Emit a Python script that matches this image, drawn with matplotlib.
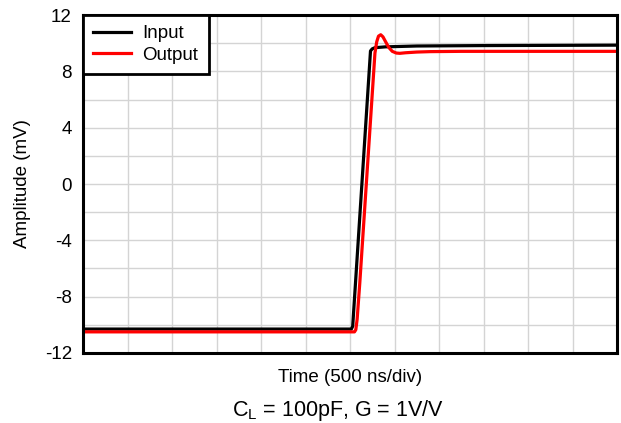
"""
   step response of the amplifier, input vs output, CL = 100pF, G = 1V/V
"""
import matplotlib
matplotlib.use('Agg')
from matplotlib import pyplot as plt
import numpy as np

plt.rcParams['font.family'] = ['Liberation Sans', 'DejaVu Sans']
plt.rcParams['axes.unicode_minus'] = False

# time in divisions (500 ns/div), amplitude in mV
t_in = [0.0, 6.03, 6.06, 6.46, 6.50, 6.56, 6.8, 7.5, 9.0, 12.0]
v_in = [-10.3, -10.3, -10.1, 9.45, 9.6, 9.68, 9.74, 9.8, 9.83, 9.86]

t_out = [0.0, 6.10, 6.13, 6.16, 6.19, 6.22, 6.56, 6.60, 6.64, 6.69, 6.74,
         6.80, 6.87, 6.95, 7.04, 7.12, 7.25, 7.5, 7.8, 8.5, 12.0]
v_out = [-10.5, -10.5, -10.35, -9.6, -8.3, -7.0, 9.3, 10.1, 10.5, 10.6, 10.45,
         10.1, 9.7, 9.42, 9.3, 9.28, 9.32, 9.37, 9.4, 9.42, 9.42]

y_ticks = [-12, -8, -4, 0, 4, 8, 12]

fig = plt.figure(figsize=(6.21, 4.23), dpi=100)
ax = fig.add_axes([0.1337, 0.1655, 0.8599, 0.799])

ax.plot(t_in, v_in, color='black', lw=2.3, label='Input', zorder=3)
ax.plot(t_out, v_out, color='red', lw=2.3, label='Output', zorder=4)

ax.set_xlim(0, 12)
ax.set_ylim(-12, 12)
ax.set_xticks(np.arange(0, 13, 1))
ax.set_xticklabels([])
ax.set_yticks(y_ticks)
ax.set_yticks(np.arange(-12, 13, 2), minor=True)
ax.tick_params(axis='both', which='both', length=0, labelsize=13.5, pad=8)
ax.grid(True, which='both', color='#d4d4d4', lw=1.0, zorder=0)
for sp in ax.spines.values():
    sp.set_linewidth(2.2)
    sp.set_zorder(5)

ax.set_ylabel('Amplitude (mV)', fontsize=13.5, labelpad=10)
ax.set_xlabel('Time (500 ns/div)', fontsize=13.5, labelpad=3.5)
fig.text(0.5435, 0.0165, r'C$_\mathregular{L}$ = 100pF, G = 1V/V', ha='center',
         va='baseline', fontsize=15.5)

leg = ax.legend(loc='upper left', fontsize=13.5, fancybox=False, framealpha=1,
                edgecolor='black', borderaxespad=0, handlelength=2.0,
                borderpad=0.55, labelspacing=0.22, handletextpad=0.62)
leg.get_frame().set_linewidth(2.0)
leg.set_zorder(6)

fig.savefig('out.png', dpi=100)
